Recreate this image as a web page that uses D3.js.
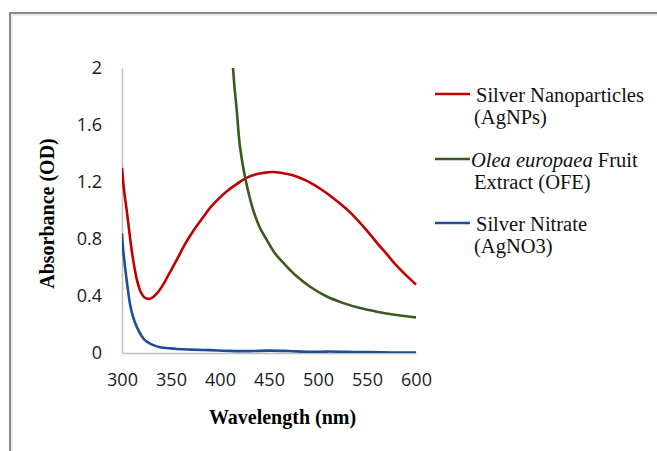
<!DOCTYPE html>
<html>
<head>
<meta charset="utf-8">
<script src="https://cdn.jsdelivr.net/npm/d3@7"></script>
<style>
  body { margin: 0; background: #fff; }
  svg { display: block; }
</style>
</head>
<body>
<svg width="657" height="451"></svg>
<script>
// silver nanoparticles (AgNPs)
const agnpWave = [300, 302, 305, 308, 311, 315, 319, 323, 327, 330, 333, 337, 342, 348, 356, 364, 373, 382, 390, 399, 407, 417, 426, 436, 446, 454, 462, 470, 478, 487, 496, 505, 515, 524, 533, 542, 551, 560, 570, 580, 590, 600];
const agnpAbs  = [1.30, 1.15, 0.99, 0.82, 0.67, 0.52, 0.43, 0.39, 0.38, 0.385, 0.40, 0.43, 0.48, 0.555, 0.655, 0.76, 0.86, 0.945, 1.02, 1.085, 1.135, 1.185, 1.225, 1.252, 1.266, 1.27, 1.265, 1.254, 1.238, 1.213, 1.18, 1.14, 1.09, 1.04, 0.985, 0.92, 0.85, 0.775, 0.695, 0.615, 0.545, 0.48];

// Olea europaea fruit extract (OFE)
const ofeWave = [410, 413, 415, 417, 420, 423, 426, 430, 434, 440, 448, 456, 465, 478, 492, 508, 526, 543, 560, 580, 600];
const ofeAbs  = [2.35, 2.03, 1.85, 1.71, 1.47, 1.33, 1.22, 1.10, 1.00, 0.89, 0.79, 0.70, 0.63, 0.54, 0.465, 0.40, 0.35, 0.315, 0.29, 0.267, 0.25];

// silver nitrate (AgNO3)
const agno3Wave = [300, 301, 303, 305, 308, 311, 315, 320, 325, 332, 339, 348, 356, 370, 390, 410, 430, 450, 470, 492, 510, 530, 550, 575, 600];
const agno3Abs  = [0.84, 0.74, 0.61, 0.50, 0.35, 0.26, 0.185, 0.12, 0.08, 0.055, 0.04, 0.033, 0.028, 0.024, 0.02, 0.015, 0.013, 0.017, 0.014, 0.008, 0.01, 0.008, 0.006, 0.004, 0.004];

const xTicks = [300, 350, 400, 450, 500, 550, 600];
const yTicks = [0, 0.4, 0.8, 1.2, 1.6, 2];
const seriesColors = ["#c00000", "#3a5a22", "#1f4e96"];
const legendFirst  = ["Silver Nanoparticles", "Fruit", "Silver Nitrate"];
const legendSecond = ["(AgNPs)", "Extract (OFE)", "(AgNO3)"];

function makeSeries(wave, abs) {
    return wave.map((w, i) => ({x: w, y: abs[i]}));
}

function drawGraph() {
    let svg = d3.select("svg");

    // область графика
    attr_area = {
        left: 122,
        right: 416,
        top: 68,
        bottom: 353
    };

    // рамка вокруг рисунка
    svg.append("path")
        .attr("d", "M10,451 V13 H657")
        .attr("fill", "none")
        .style("stroke", "#8a8a8a")
        .style("stroke-width", 2);
    svg.append("path")
        .attr("d", "M12,451 V15 H657")
        .attr("fill", "none")
        .style("stroke", "#d8d8d8")
        .style("stroke-width", 1);

    const [scX, scY] = createAxis(svg, attr_area);

    svg.append("clipPath")
        .attr("id", "plotClip")
        .append("rect")
        .attr("x", attr_area.left)
        .attr("y", attr_area.top)
        .attr("width", attr_area.right - attr_area.left + 2)
        .attr("height", attr_area.bottom - attr_area.top);

    createChart(svg, makeSeries(agnpWave, agnpAbs), scX, scY, seriesColors[0]);
    createChart(svg, makeSeries(ofeWave, ofeAbs), scX, scY, seriesColors[1]);
    createChart(svg, makeSeries(agno3Wave, agno3Abs), scX, scY, seriesColors[2]);

    createLegend(svg);
}

function createAxis(svg, attr_area) {
    let scaleX = d3.scaleLinear()
        .domain([300, 600])
        .range([attr_area.left, attr_area.right]);
    let scaleY = d3.scaleLinear()
        .domain([0, 2])
        .range([attr_area.bottom, attr_area.top]);

    let axisX = d3.axisBottom(scaleX).tickValues(xTicks).tickSize(0).tickSizeOuter(0).tickPadding(20).tickFormat(d3.format("d"));
    let axisY = d3.axisLeft(scaleY).tickValues(yTicks).tickSize(0).tickSizeOuter(0).tickPadding(20).tickFormat(d => String(d));

    let gx = svg.append("g")
        .attr("transform", `translate(0, ${attr_area.bottom})`)
        .call(axisX);
    let gy = svg.append("g")
        .attr("transform", `translate(${attr_area.left}, 0)`)
        .call(axisY);

    [gx, gy].forEach(g => {
        g.select(".domain").style("stroke", "#bfbfbf").style("stroke-width", 1.5);
        g.selectAll("text")
            .style("font-family", "'Open Sans', sans-serif")
            .style("font-size", "18px")
            .style("fill", "#1a1a1a");
    });

    // подписи осей
    svg.append("text")
        .attr("transform", "translate(54, 213.5) rotate(-90)")
        .attr("text-anchor", "middle")
        .style("font-family", "'Liberation Serif', serif")
        .style("font-weight", "bold")
        .style("font-size", "20px")
        .text("Absorbance (OD)");
    svg.append("text")
        .attr("x", 282.5)
        .attr("y", 424)
        .attr("text-anchor", "middle")
        .style("font-family", "'Liberation Serif', serif")
        .style("font-weight", "bold")
        .style("font-size", "20px")
        .text("Wavelength (nm)");

    return [scaleX, scaleY];
}

function createChart(svg, data, scaleX, scaleY, color) {
    let line = d3.line()
        .x(d => scaleX(d.x))
        .y(d => scaleY(d.y))
        .curve(d3.curveCatmullRom.alpha(0.5));
    svg.append("path")
        .datum(data)
        .attr("d", line)
        .attr("clip-path", "url(#plotClip)")
        .attr("fill", "none")
        .style("stroke", color)
        .style("stroke-width", 2.6)
        .style("stroke-linejoin", "round");
}

function createLegend(svg) {
    const lineY = [94, 159, 223];
    const step = 22.5;
    let g = svg.append("g")
        .style("font-family", "'Liberation Serif', serif")
        .style("font-size", "20.5px")
        .style("fill", "#111");

    seriesColors.forEach((color, i) => {
        g.append("line")
            .attr("x1", 435).attr("x2", 470)
            .attr("y1", lineY[i]).attr("y2", lineY[i])
            .style("stroke", color)
            .style("stroke-width", 2.6);
        let t = g.append("text")
            .attr("x", i === 1 ? 471 : 476)
            .attr("y", lineY[i] + 7.5);
        if (i === 1) {
            t.append("tspan").style("font-style", "italic").text("Olea europaea");
            t.append("tspan").text(" " + legendFirst[i]);
        } else {
            t.text(legendFirst[i]);
        }
        g.append("text")
            .attr("x", 474)
            .attr("y", lineY[i] + 7.5 + step)
            .text(legendSecond[i]);
    });
}

drawGraph();
</script>
</body>
</html>
